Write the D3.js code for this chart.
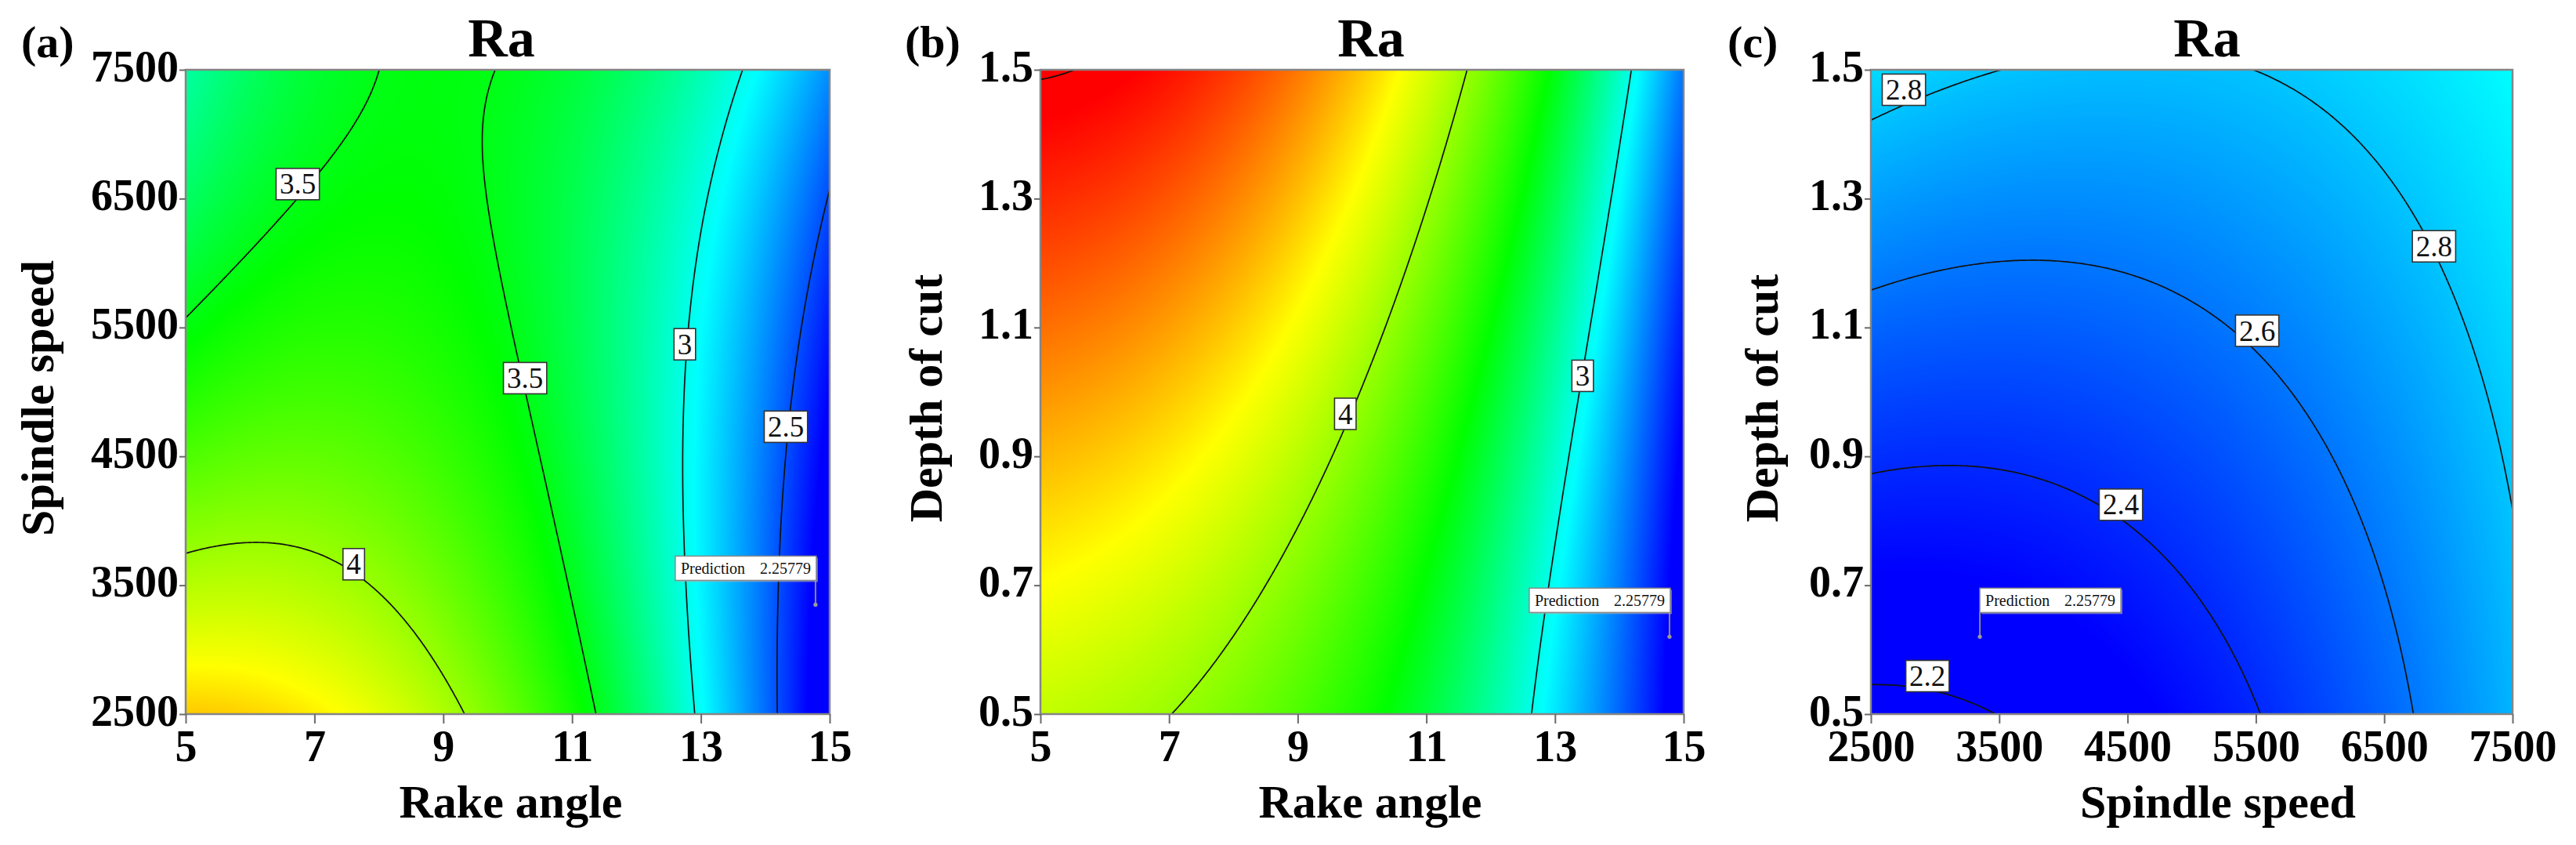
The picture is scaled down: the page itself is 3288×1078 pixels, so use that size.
<!DOCTYPE html>
<html>
<head>
<meta charset="utf-8">
<script src="https://cdn.jsdelivr.net/npm/d3@7"></script>
<style>
  body { margin: 0; background: #ffffff; }
  svg { display: block; }
</style>
</head>
<body>
<svg id="chart" width="3288" height="1078"></svg>
<script>
// ---------------- data ----------------
const rakeTicks  = [5, 7, 9, 11, 13, 15];
const speedTicks = [2500, 3500, 4500, 5500, 6500, 7500];
const depthTicks = [0.5, 0.7, 0.9, 1.1, 1.3, 1.5];
const rakeDomain  = [5, 15];
const speedDomain = [2500, 7500];
const depthDomain = [0.5, 1.5];

const levelsA = [2.5, 3, 3.5, 4];
const levelsB = [3, 4, 5];
const levelsC = [2.2, 2.4, 2.6, 2.8];

// traced contour points: [x, y, Ra]
// (a) rake angle vs spindle speed
const tracesA = [
  [5, 5609, 3.5], [5.94, 6069, 3.5], [6.74, 6613, 3.5], [7.48, 7010, 3.5], [8.13, 7500, 3.5],
  [9.95, 7500, 3.5], [9.75, 7199, 3.5], [9.71, 6822, 3.5], [9.79, 6278, 3.5], [10.05, 5525, 3.5],
  [10.27, 5107, 3.5], [10.52, 4479, 3.5], [10.82, 3851, 3.5], [11.08, 3223, 3.5], [11.31, 2500, 3.5],
  [5, 3734, 4], [6.03, 3810, 4], [6.88, 3746, 4], [7.61, 3663, 4], [8.25, 3475, 4],
  [8.77, 3182, 4], [8.95, 2889, 4], [9.24, 2500, 4],
  [13.8, 7500, 3], [13.39, 6864, 3], [13.0, 6153, 3], [12.79, 5525, 3], [12.71, 4688, 3],
  [12.71, 3851, 3], [12.73, 3223, 3], [12.88, 2500, 3],
  [15, 6425, 2.5], [14.76, 6111, 2.5], [14.5, 5525, 2.5], [14.33, 4688, 2.5], [14.2, 3851, 2.5],
  [14.16, 3223, 2.5], [14.19, 2500, 2.5],
  [14.78, 3349, 2.258]
];
// colour-read values (weaker hints)
const hintsA = [
  [5, 7500, 3.17], [5, 2500, 4.45], [7, 2500, 4.3], [15, 7500, 2.58], [15, 2500, 2.22],
  [11.5, 7500, 3.24], [13.3, 4000, 2.95], [8.5, 5000, 3.62], [7.5, 5000, 3.6]
];

// (b) rake angle vs depth of cut
const tracesB = [
  [6.83, 0.5, 4], [7.51, 0.584, 4], [8.16, 0.662, 4], [8.82, 0.76, 4], [9.47, 0.871, 4],
  [9.73, 0.943, 4], [10.12, 1.041, 4], [10.51, 1.133, 4], [10.9, 1.25, 4], [11.23, 1.348, 4], [11.59, 1.5, 4],
  [12.5, 0.5, 3], [12.93, 0.727, 3], [13.19, 0.884, 3], [13.41, 1.015, 3], [13.64, 1.165, 3],
  [13.9, 1.316, 3], [14.3, 1.5, 3],
  [5, 1.479, 5], [5.42, 1.487, 5], [5.91, 1.5, 5],
  [14.78, 0.62, 2.258]
];
const hintsB = [
  [5, 1.5, 5.02], [5, 1.3, 4.75], [5, 1.1, 4.64], [5, 0.9, 4.5], [5, 0.7, 4.35], [5, 0.5, 4.14],
  [6.5, 1.5, 4.95], [9.08, 1.5, 4.63], [10.5, 1.5, 4.3], [12.66, 1.5, 3.55],
  [8.42, 0.943, 4.3], [11.49, 0.943, 3.55], [11.16, 0.5, 3.55], [12.75, 0.5, 2.95],
  [15, 0.5, 2.25], [15, 1.0, 2.32], [15, 1.5, 2.45], [14.49, 1.5, 2.95]
];

// (c) spindle speed vs depth of cut
const tracesC = [
  [2500, 0.545, 2.2], [2950, 0.53, 2.2], [3420, 0.5, 2.2],
  [2500, 0.871, 2.4], [3121, 0.881, 2.4], [3849, 0.862, 2.4], [4448, 0.804, 2.4], [4919, 0.72, 2.4],
  [5261, 0.62, 2.4], [5518, 0.5, 2.4],
  [2500, 1.155, 2.6], [3206, 1.197, 2.6], [3849, 1.208, 2.6], [4491, 1.185, 2.6], [5133, 1.13, 2.6],
  [5518, 1.072, 2.6], [5904, 0.971, 2.6], [6246, 0.846, 2.6], [6503, 0.703, 2.6], [6717, 0.5, 2.6],
  [2500, 1.423, 2.8], [2907, 1.456, 2.8], [3463, 1.5, 2.8],
  [5454, 1.5, 2.8], [5990, 1.423, 2.8], [6717, 1.264, 2.8], [7060, 1.138, 2.8], [7316, 0.979, 2.8], [7500, 0.787, 2.8],
  [3365, 0.62, 2.258]
];
const hintsC = [
  [7500, 1.5, 2.93], [2500, 0.5, 2.15], [7500, 0.5, 2.75]
];

// contour labels: [value, x, y]
const labelsA = [[3.5, 6.74, 6613], [3.5, 10.27, 5107], [3, 12.75, 5370], [2.5, 14.32, 4730], [4, 7.61, 3663]];
const labelsB = [[4, 9.74, 0.966], [3, 13.43, 1.025]];
const labelsC = [[2.8, 2757, 1.469], [2.8, 6888, 1.226], [2.6, 5510, 1.095], [2.4, 4448, 0.825], [2.2, 2941, 0.559]];

const predictionValue = 2.25779;
const predictionRake = 14.78;
const predictionSpeed = 3349;
const predictionDepth = 0.62;

const colorValues = [2.3, 2.95, 3.55, 4.3, 4.95];
const colorNames  = ["#0000ff", "#00ffff", "#00ff00", "#ffff00", "#ff0000"];

// ---------------- surface fit ----------------
function basis(u, v) {
  return [1, u, v, u * u, u * v, v * v, u * u * u, u * u * v, u * v * v, v * v * v];
}
function solve(A, b) {
  const n = b.length;
  const M = A.map((row, i) => row.concat([b[i]]));
  for (let c = 0; c < n; c++) {
    let p = c;
    for (let r = c + 1; r < n; r++) if (Math.abs(M[r][c]) > Math.abs(M[p][c])) p = r;
    const t = M[c]; M[c] = M[p]; M[p] = t;
    for (let r = 0; r < n; r++) {
      if (r === c) continue;
      const f = M[r][c] / M[c][c];
      for (let k = c; k <= n; k++) M[r][k] -= f * M[c][k];
    }
  }
  return M.map((row, i) => row[n] / row[i]);
}
function fitSurface(traces, hints, xd, yd) {
  const nx = d3.scaleLinear().domain(xd).range([-1, 1]);
  const ny = d3.scaleLinear().domain(yd).range([-1, 1]);
  const k = 10;
  const M = Array.from({length: k}, () => new Array(k).fill(0));
  const r = new Array(k).fill(0);
  const add = (x, y, z, w) => {
    const b = basis(nx(x), ny(y));
    for (let i = 0; i < k; i++) {
      r[i] += w * b[i] * z;
      for (let j = 0; j < k; j++) M[i][j] += w * b[i] * b[j];
    }
  };
  traces.forEach(([x, y, z]) => add(x, y, z, 1));
  hints.forEach(([x, y, z]) => add(x, y, z, 0.35));
  for (let i = 0; i < k; i++) M[i][i] += 1e-6;
  const c = solve(M, r);
  return (x, y) => {
    const b = basis(nx(x), ny(y));
    let s = 0;
    for (let i = 0; i < k; i++) s += b[i] * c[i];
    return s;
  };
}

// ---------------- layout ----------------
const FONT = "'Times New Roman', 'Liberation Serif', Times, serif";
const plotTop = 89, plotH = 822;
const panels = [
  { letter: "(a)", letterX: 27, left: 237, w: 822, xTitleX: 652, titleX: 640, yTitleX: 68,
    xDomain: rakeDomain, yDomain: speedDomain, xTicks: rakeTicks, yTicks: speedTicks,
    xFmt: d3.format("d"), yFmt: d3.format("d"),
    xTitle: "Rake angle", yTitle: "Spindle speed",
    traces: tracesA, hints: hintsA, levels: levelsA, labels: labelsA,
    pred: [predictionRake, predictionSpeed], predSide: "left" },
  { letter: "(b)", letterX: 1155, left: 1328, w: 821, xTitleX: 1749, titleX: 1750, yTitleX: 1202,
    xDomain: rakeDomain, yDomain: depthDomain, xTicks: rakeTicks, yTicks: depthTicks,
    xFmt: d3.format("d"), yFmt: d3.format(".1f"),
    xTitle: "Rake angle", yTitle: "Depth of cut",
    traces: tracesB, hints: hintsB, levels: levelsB, labels: labelsB,
    pred: [predictionRake, predictionDepth], predSide: "left" },
  { letter: "(c)", letterX: 2205, left: 2388, w: 819, xTitleX: 2831, titleX: 2817, yTitleX: 2269,
    xDomain: speedDomain, yDomain: depthDomain, xTicks: speedTicks, yTicks: depthTicks,
    xFmt: d3.format("d"), yFmt: d3.format(".1f"),
    xTitle: "Spindle speed", yTitle: "Depth of cut",
    traces: tracesC, hints: hintsC, levels: levelsC, labels: labelsC,
    pred: [predictionSpeed, predictionDepth], predSide: "right" }
];

const color = d3.scaleLinear().domain(colorValues).range(colorNames).clamp(true);
const LUT_N = 2048, lutMin = 1.5, lutMax = 5.6;
const lut = new Uint8ClampedArray(LUT_N * 3);
for (let i = 0; i < LUT_N; i++) {
  const c = d3.rgb(color(lutMin + (lutMax - lutMin) * i / (LUT_N - 1)));
  lut[i * 3] = c.r; lut[i * 3 + 1] = c.g; lut[i * 3 + 2] = c.b;
}

const svg = d3.select("#chart");
svg.append("rect").attr("width", 3288).attr("height", 1078).attr("fill", "#ffffff");
const defs = svg.append("defs");

panels.forEach((p, pi) => {
  const f = fitSurface(p.traces, p.hints, p.xDomain, p.yDomain);
  const x = d3.scaleLinear().domain(p.xDomain).range([p.left, p.left + p.w]);
  const y = d3.scaleLinear().domain(p.yDomain).range([plotTop + plotH, plotTop]);
  const g = svg.append("g");

  // colour field
  const canvas = document.createElement("canvas");
  canvas.width = p.w; canvas.height = plotH;
  const ctx = canvas.getContext("2d");
  const img = ctx.createImageData(p.w, plotH);
  for (let py = 0; py < plotH; py++) {
    const yv = y.invert(plotTop + py + 0.5);
    for (let px = 0; px < p.w; px++) {
      const v = f(x.invert(p.left + px + 0.5), yv);
      let idx = Math.round((v - lutMin) / (lutMax - lutMin) * (LUT_N - 1));
      idx = Math.max(0, Math.min(LUT_N - 1, idx));
      const o = (py * p.w + px) * 4;
      img.data[o] = lut[idx * 3]; img.data[o + 1] = lut[idx * 3 + 1]; img.data[o + 2] = lut[idx * 3 + 2]; img.data[o + 3] = 255;
    }
  }
  ctx.putImageData(img, 0, 0);
  g.append("image").attr("x", p.left).attr("y", plotTop).attr("width", p.w).attr("height", plotH)
    .attr("preserveAspectRatio", "none").attr("href", canvas.toDataURL());

  // contour lines
  const clipId = "clip" + pi;
  defs.append("clipPath").attr("id", clipId).append("rect")
    .attr("x", p.left).attr("y", plotTop).attr("width", p.w).attr("height", plotH);
  const n = 260;
  const xs = (p.xDomain[1] - p.xDomain[0]) * 0.04, ys = (p.yDomain[1] - p.yDomain[0]) * 0.04;
  const gx = d3.scaleLinear().domain([0, n]).range([p.xDomain[0] - xs, p.xDomain[1] + xs]);
  const gy = d3.scaleLinear().domain([0, n]).range([p.yDomain[1] + ys, p.yDomain[0] - ys]);
  const values = new Float64Array(n * n);
  for (let j = 0; j < n; j++) for (let i = 0; i < n; i++) values[j * n + i] = f(gx(i + 0.5), gy(j + 0.5));
  const contours = d3.contours().size([n, n]).thresholds(p.levels)(values);
  const proj = d3.geoTransform({ point: function(px, py) { this.stream.point(x(gx(px)), y(gy(py))); } });
  const path = d3.geoPath(proj);
  g.append("g").attr("clip-path", `url(#${clipId})`)
    .selectAll("path").data(contours).join("path")
    .attr("d", path).attr("fill", "none").attr("stroke", "#111").attr("stroke-width", 1.7);

  // frame
  g.append("rect").attr("x", p.left).attr("y", plotTop).attr("width", p.w).attr("height", plotH)
    .attr("fill", "none").attr("stroke", "#858585").attr("stroke-width", 2.5);

  // axes
  const xAxis = g.append("g").attr("transform", `translate(0,${plotTop + plotH})`)
    .call(d3.axisBottom(x).tickValues(p.xTicks).tickFormat(p.xFmt).tickSize(12).tickPadding(8));
  const yAxis = g.append("g").attr("transform", `translate(${p.left},0)`)
    .call(d3.axisLeft(y).tickValues(p.yTicks).tickFormat(p.yFmt).tickSize(8).tickPadding(1));
  [xAxis, yAxis].forEach(a => {
    a.select(".domain").remove();
    a.selectAll(".tick line").attr("stroke", "#6a6a6a").attr("stroke-width", 2);
    a.selectAll(".tick text").attr("fill", "#000").style("font-family", FONT)
      .style("font-size", "56px").style("font-weight", "bold");
  });
  yAxis.selectAll(".tick text").attr("dy", "0.25em");

  // titles
  g.append("text").attr("x", p.titleX).attr("y", 72).attr("text-anchor", "middle")
    .style("font-family", FONT).style("font-size", "70px").style("font-weight", "bold").text("Ra");
  g.append("text").attr("x", p.letterX).attr("y", 73)
    .style("font-family", FONT).style("font-size", "58px").style("font-weight", "bold").text(p.letter);
  g.append("text").attr("x", p.xTitleX).attr("y", 1043).attr("text-anchor", "middle")
    .style("font-family", FONT).style("font-size", "60px").style("font-weight", "bold").text(p.xTitle);
  g.append("text").attr("transform", `translate(${p.yTitleX},508) rotate(-90)`).attr("text-anchor", "middle")
    .style("font-family", FONT).style("font-size", "60px").style("font-weight", "bold").text(p.yTitle);

  // contour labels
  const lab = g.append("g").selectAll("g").data(p.labels).join("g")
    .attr("transform", d => `translate(${x(d[1])},${y(d[2])})`);
  const rects = lab.append("rect").attr("fill", "#fff").attr("stroke", "#333").attr("stroke-width", 1.6);
  const texts = lab.append("text").attr("text-anchor", "middle").attr("dy", "0.34em")
    .style("font-family", FONT).style("font-size", "37px").attr("fill", "#111")
    .text(d => d3.format("~g")(d[0]));
  texts.each(function(d, i) {
    const tw = this.getComputedTextLength() + 9;
    d3.select(rects.nodes()[i]).attr("x", -tw / 2).attr("y", -20).attr("width", tw).attr("height", 40);
  });

  // prediction flag
  const ppx = x(p.pred[0]), ppy = y(p.pred[1]);
  const bw = 180, bh = 31;
  const bx = p.predSide === "left" ? ppx - bw + 1 : ppx;
  const by = ppy - 31 - bh;
  g.append("line").attr("x1", ppx).attr("x2", ppx).attr("y1", by + bh).attr("y2", ppy)
    .attr("stroke", "#8a8a8a").attr("stroke-width", 2);
  g.append("circle").attr("cx", ppx).attr("cy", ppy).attr("r", 2.6).attr("fill", "#9a9a9a");
  g.append("rect").attr("x", bx + 2).attr("y", by + 2).attr("width", bw).attr("height", bh).attr("fill", "#b0b0b0").attr("opacity", 0.6);
  g.append("rect").attr("x", bx).attr("y", by).attr("width", bw).attr("height", bh)
    .attr("fill", "#fff").attr("stroke", "#8a8a8a").attr("stroke-width", 1.5);
  g.append("text").attr("x", bx + 7).attr("y", by + bh / 2).attr("dy", "0.34em")
    .style("font-family", FONT).style("font-size", "20px").attr("fill", "#111").text("Prediction");
  g.append("text").attr("x", bx + bw - 7).attr("y", by + bh / 2).attr("dy", "0.34em").attr("text-anchor", "end")
    .style("font-family", FONT).style("font-size", "20px").attr("fill", "#111").text(String(predictionValue));
});
</script>
</body>
</html>
